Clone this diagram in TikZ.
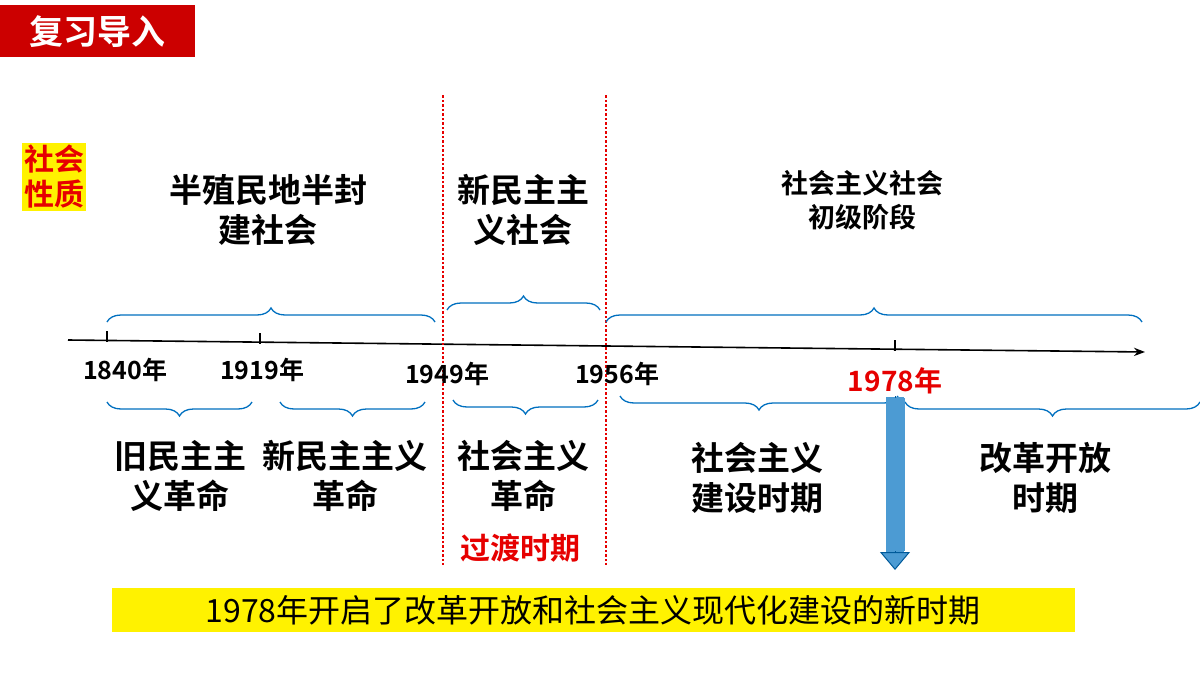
\documentclass[tikz,border=0pt]{standalone}
\usepackage{fontspec}
\setmainfont{Noto Sans CJK SC}[BoldFont={Noto Sans CJK SC Bold}]
\usetikzlibrary{decorations.pathreplacing,arrows.meta}
\definecolor{brc}{RGB}{0,112,192}
\definecolor{redc}{RGB}{230,0,0}
\tikzset{
  big/.style={font=\fontsize{33}{40}\selectfont\bfseries,align=center},
  year/.style={font=\fontsize{25}{28}\selectfont\bfseries},
  upbrace/.style={brc,line width=1.3pt,decorate,decoration={brace,amplitude=14pt}},
  downbrace/.style={brc,line width=1.3pt,decorate,decoration={brace,amplitude=14pt,mirror}},
  sep/.style={redc,line width=2pt,dash dot}
}
\begin{document}
\begin{tikzpicture}[x=1pt,y=-1pt]
\useasboundingbox[fill=white] (0,0) rectangle (1200,675);
% banner
\node[fill=red!80!black,minimum width=195pt,minimum height=52pt,anchor=north west,
  text=white,font=\fontsize{34}{38}\selectfont\bfseries] (head) at (0,5) {复习导入};
\node[fill=yellow,text=redc,font=\fontsize{30}{35}\selectfont\bfseries,align=center,
  inner sep=2pt] (kind) at (54,177) {社会\\性质};

% timeline
\coordinate (t0) at (68,340);
\coordinate (t1) at (1145,352);
\draw[line width=1.6pt,-{Stealth[length=11pt]}] (t0) -- (t1);
\foreach \x/\y in {107/340.4,260/342.1,895/349.2}
  \draw[line width=1.6pt] (\x,\y-9) -- (\x,\y+2);

% separators
\draw[sep] (443,95) -- (443,565);
\draw[sep] (606,95) -- (606,565);

% years
\node[year] (y1) at (125,370) {1840年};
\node[year] (y2) at (262,370) {1919年};
\node[year] (y3) at (447,374) {1949年};
\node[year] (y4) at (617,374) {1956年};
\node[year,text=redc,font=\fontsize{28}{32}\selectfont\bfseries] (y5) at (895,381) {1978年};

% top braces
\draw[upbrace] (107,322) -- (435,322);
\draw[upbrace] (447,310) -- (600,310);
\draw[upbrace] (606,322) -- (1142,322);
\node[big] (s1) at (268,210) {半殖民地半封\\建社会};
\node[big] (s2) at (523,210) {新民主主\\义社会};
\node[big,font=\fontsize{27}{34}\selectfont\bfseries] (s3) at (862,200) {社会主义社会\\初级阶段};

% bottom braces
\draw[downbrace] (107,402) -- (252,402);
\draw[downbrace] (280,402) -- (425,402);
\draw[downbrace] (453,400) -- (598,400);
\draw[downbrace] (620,396) -- (898,396);
\draw[downbrace] (905,402) -- (1200,402);
\node[big] (r1) at (180,476) {旧民主主\\义革命};
\node[big] (r2) at (345,476) {新民主主义\\革命};
\node[big] (r3) at (523,476) {社会主义\\革命};
\node[big] (r4) at (757,478) {社会主义\\建设时期};
\node[big] (r5) at (1045,478) {改革开放\\时期};
\node[big,text=redc,font=\fontsize{30}{34}\selectfont\bfseries] (r6) at (520,548) {过渡时期};

% arrow
\coordinate (a0) at (895,396);
\coordinate (a1) at (895,570);
\fill[brc!70] (886,397) rectangle (904,552);
\draw[brc!80!black,line width=1pt,-{Triangle[length=18pt,width=30pt,fill=brc!70]}]
  (a0) -- (a1);
\fill[brc!70] (885.5,397.5) rectangle (904.5,551);

% bottom banner
\node[fill=yellow,minimum width=963pt,minimum height=44pt,font=\fontsize{32}{36}\selectfont]
  (note) at (593,610) {1978年开启了改革开放和社会主义现代化建设的新时期};
\end{tikzpicture}
\end{document}
